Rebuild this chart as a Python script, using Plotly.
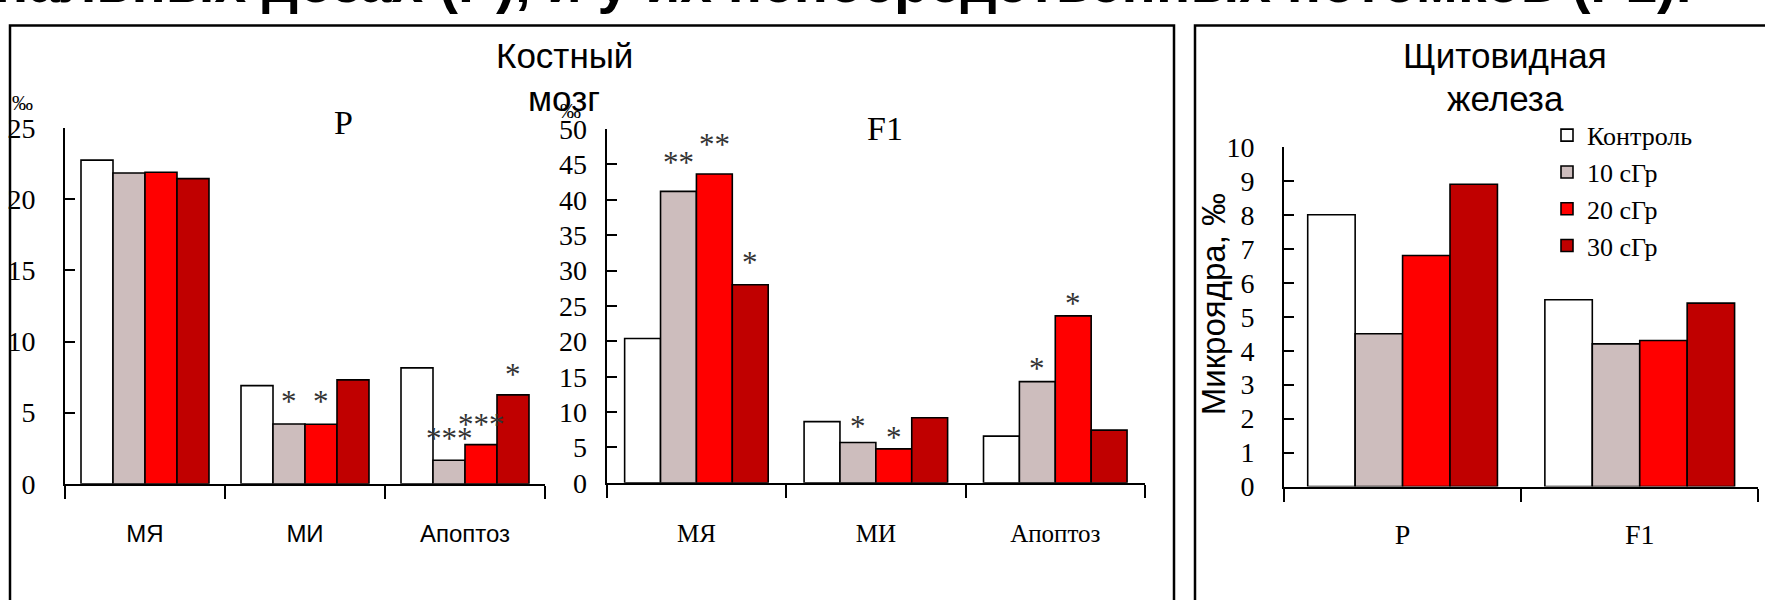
import plotly.graph_objects as go

W, H = 1765, 600

# ---------------- data ----------------
groups = ["Контроль", "10 сГр", "20 сГр", "30 сГр"]
group_colors = ["#FFFFFF", "#CDBDBD", "#FF0000", "#C00000"]

bm_categories = ["МЯ", "МИ", "Апоптоз"]
bm_p_control = [22.75, 6.9, 8.15]
bm_p_10 = [21.85, 4.2, 1.65]
bm_p_20 = [21.9, 4.18, 2.75]
bm_p_30 = [21.45, 7.3, 6.25]

bm_f1_control = [20.4, 8.65, 6.6]
bm_f1_10 = [41.2, 5.7, 14.3]
bm_f1_20 = [43.65, 4.8, 23.6]
bm_f1_30 = [28.0, 9.2, 7.45]

thy_categories = ["P", "F1"]
thy_control = [8.0, 5.5]
thy_10 = [4.5, 4.2]
thy_20 = [6.8, 4.3]
thy_30 = [8.9, 5.4]

# significance marks: (category index, group index, text, y-position)
p_marks = [(1, 1, "*", 6.25), (1, 2, "*", 6.25), (2, 1, "***", 3.66),
           (2, 2, "***", 4.67), (2, 3, "*", 8.2)]
f1_marks = [(0, 1, "**", 46.3), (0, 2, "**", 48.8), (0, 3, "*", 32.2),
            (1, 1, "*", 9.0), (1, 2, "*", 7.4), (2, 1, "*", 17.2), (2, 2, "*", 26.4)]

bm_p = [bm_p_control, bm_p_10, bm_p_20, bm_p_30]
bm_f1 = [bm_f1_control, bm_f1_10, bm_f1_20, bm_f1_30]
thy = [thy_control, thy_10, thy_20, thy_30]

SERIF = "Liberation Serif"
SANS = "Liberation Sans"

fig = go.Figure()
for k, (name, col) in enumerate(zip(groups, group_colors)):
    line = dict(color="black", width=1.6)
    fig.add_trace(go.Bar(x=bm_categories, y=bm_p[k], name=name, legendgroup=name,
                         marker=dict(color=col, line=line), xaxis="x", yaxis="y", showlegend=False))
    fig.add_trace(go.Bar(x=bm_categories, y=bm_f1[k], name=name, legendgroup=name,
                         marker=dict(color=col, line=line), xaxis="x2", yaxis="y2", showlegend=False))
    fig.add_trace(go.Bar(x=thy_categories, y=thy[k], name=name, legendgroup=name,
                         marker=dict(color=col, line=line), xaxis="x3", yaxis="y3", showlegend=True))


def px_x(v):
    return v / W


def px_y(v):
    return 1 - v / H


xcommon = dict(type="category", showline=True, linecolor="black", linewidth=2,
               tickson="boundaries", ticks="outside", ticklen=13, tickwidth=1.5,
               tickcolor="black", showgrid=False, zeroline=False, fixedrange=True)
ycommon = dict(showline=True, linecolor="black", linewidth=2, ticks="inside", ticklen=10,
               tickwidth=2, tickcolor="black", showgrid=False, zeroline=False,
               tickfont=dict(family=SERIF, size=28, color="black"), fixedrange=True)

fig.update_layout(
    width=W, height=H, margin=dict(l=0, r=0, t=0, b=0),
    paper_bgcolor="white", plot_bgcolor="rgba(0,0,0,0)",
    barmode="group", bargap=0.2, bargroupgap=0,
    xaxis=dict(xcommon, domain=[px_x(65), px_x(545)], anchor="y",
               tickfont=dict(family=SANS, size=24, color="black"), ticklabelstandoff=27),
    yaxis=dict(ycommon, domain=[px_y(494.3), px_y(119.3)], anchor="x", range=[0, 25], dtick=5,
               ticklabelstandoff=22),
    xaxis2=dict(xcommon, domain=[px_x(606.7), px_x(1145)], anchor="y2",
                tickfont=dict(family=SERIF, size=25, color="black"), ticklabelstandoff=27),
    yaxis2=dict(ycommon, domain=[px_y(493.3), px_y(120.3)], anchor="x2", range=[0, 50], dtick=5,
                ticklabelstandoff=12),
    xaxis3=dict(xcommon, domain=[px_x(1284), px_x(1758.3)], anchor="y3",
                tickfont=dict(family=SERIF, size=28, color="black"), ticklabelstandoff=22),
    yaxis3=dict(ycommon, domain=[px_y(497.3), px_y(139)], anchor="x3", range=[0, 10], dtick=1,
                ticklabelstandoff=22),
    legend=dict(x=px_x(1547), y=px_y(102), xanchor="left", yanchor="top",
                font=dict(family=SERIF, size=26, color="black"), bgcolor="rgba(0,0,0,0)",
                traceorder="normal", tracegroupgap=2, itemclick=False, itemdoubleclick=False),
    showlegend=True,
)

# frames
fig.add_shape(type="rect", xref="paper", yref="paper", x0=px_x(10), x1=px_x(1174),
              y0=-0.2, y1=px_y(11), line=dict(color="black", width=2.5), fillcolor="rgba(0,0,0,0)")
fig.add_shape(type="rect", xref="paper", yref="paper", x0=px_x(1195), x1=1.2,
              y0=-0.2, y1=px_y(11), line=dict(color="black", width=2.5), fillcolor="rgba(0,0,0,0)")

ann = []
# cut-off slide title at the very top
ann.append(dict(text="<b>нальных дозах (Р), и у их непосредственных потомков (F1).</b>",
                x=px_x(1694), y=px_y(1), xref="paper", yref="paper", xanchor="right",
                yanchor="bottom", showarrow=False, font=dict(family=SANS, size=57, color="black")))
# panel headings
for txt, x, y, size in [("Костный", 564, 43, 35), ("мозг", 564, 88, 35),
                        ("Щитовидная", 1505, 43, 35), ("железа", 1505, 88, 35)]:
    ann.append(dict(text=txt, x=px_x(x), y=px_y(y), xref="paper", yref="paper",
                    xanchor="center", yanchor="middle", showarrow=False,
                    font=dict(family=SANS, size=size, color="black")))
for txt, x, y in [("P", 343, 113), ("F1", 885, 120)]:
    ann.append(dict(text=txt, x=px_x(x), y=px_y(y), xref="paper", yref="paper",
                    xanchor="center", yanchor="middle", showarrow=False,
                    font=dict(family=SERIF, size=34, color="black")))
for x, y in [(22, 93), (570, 101)]:
    ann.append(dict(text="‰", x=px_x(x), y=px_y(y), xref="paper", yref="paper",
                    xanchor="center", yanchor="middle", showarrow=False,
                    font=dict(family=SERIF, size=21, color="black")))
ann.append(dict(text="Микроядра, ‰", x=px_x(1213), y=px_y(305), xref="paper", yref="paper",
                xanchor="center", yanchor="middle", textangle=-90, showarrow=False,
                font=dict(family=SANS, size=33, color="black")))
# significance marks
for marks, xr, yr in [(p_marks, "x", "y"), (f1_marks, "x2", "y2")]:
    for ci, gi, txt, yv in marks:
        ann.append(dict(text=txt, x=ci + (gi - 1.5) * 0.2, y=yv, xref=xr, yref=yr,
                        xanchor="center", yanchor="middle", showarrow=False, yshift=-7,
                        font=dict(family=SERIF, size=31, color="#333333")))
fig.update_layout(annotations=ann)

fig.write_html("out.html")
